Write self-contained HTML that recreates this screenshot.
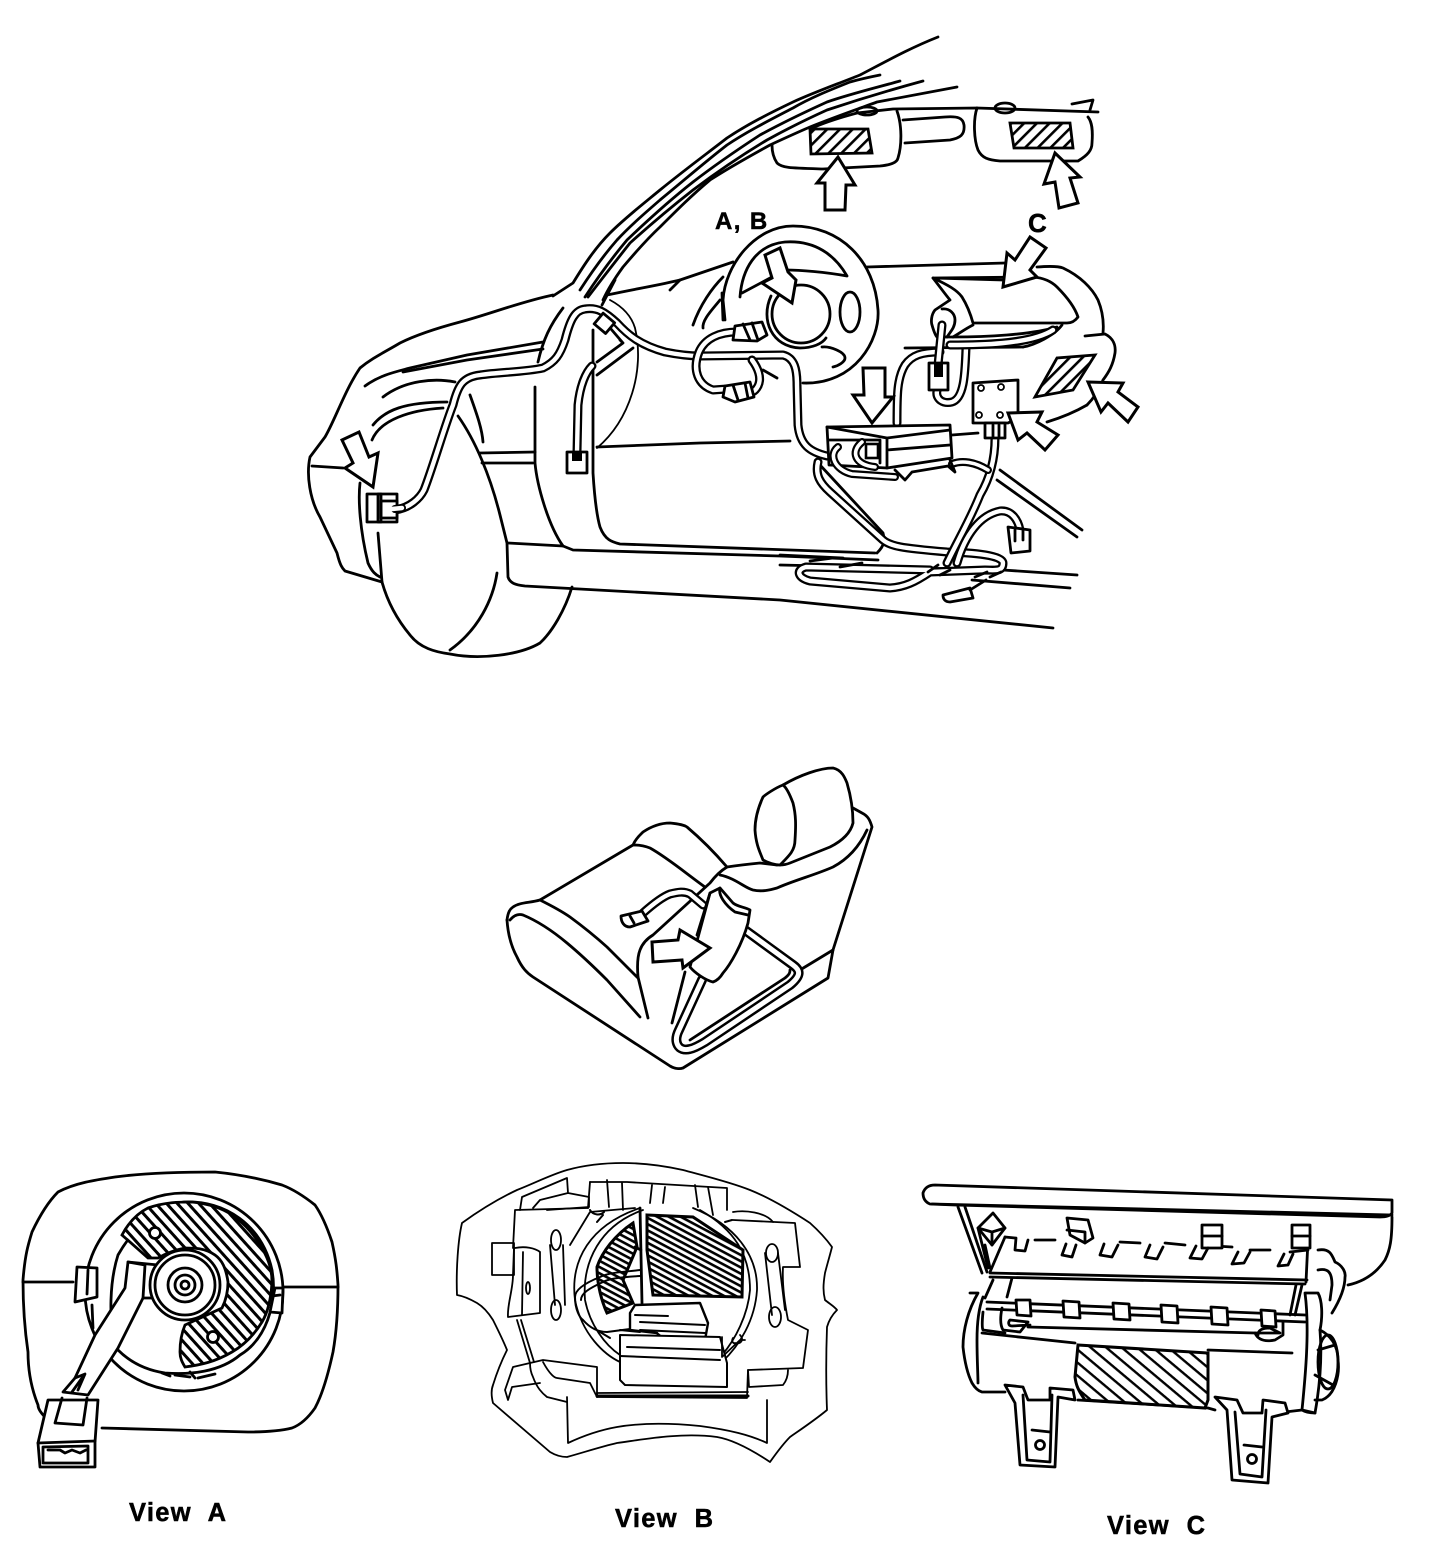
<!DOCTYPE html>
<html lang="en">
<head>
<meta charset="utf-8">
<title>Airbag component locations</title>
<style>
html,body{margin:0;padding:0;background:#fff}
svg{display:block}
text{font-family:"Liberation Sans",sans-serif;font-weight:700;fill:#000;stroke:#000;stroke-width:.5}
.l{fill:none;stroke:#000;stroke-width:2.8;stroke-linecap:round;stroke-linejoin:round}
.t{fill:none;stroke:#000;stroke-width:1.8;stroke-linecap:round;stroke-linejoin:round}
.f{fill:#fff;stroke:#000;stroke-width:2.8;stroke-linejoin:round}
.w{fill:none;stroke:#000;stroke-width:9;stroke-linecap:round;stroke-linejoin:round}
.wi{fill:none;stroke:#fff;stroke-width:4.4;stroke-linecap:round;stroke-linejoin:round}
.a{fill:#fff;stroke:#000;stroke-width:3;stroke-linejoin:miter}
</style>
</head>
<body>
<svg width="1456" height="1552" viewBox="0 0 1456 1552" xmlns="http://www.w3.org/2000/svg">
<defs>
<pattern id="hv" width="9" height="9" patternUnits="userSpaceOnUse" patternTransform="rotate(-45)"><rect width="9" height="9" fill="#fff"/><rect width="9" height="2.6" fill="#000"/></pattern>
<pattern id="ha" width="8" height="8" patternUnits="userSpaceOnUse" patternTransform="rotate(48)"><rect width="8" height="8" fill="#fff"/><rect width="8" height="3" fill="#000"/></pattern>
<pattern id="hb" width="5.5" height="5.5" patternUnits="userSpaceOnUse" patternTransform="rotate(28)"><rect width="5.5" height="5.5" fill="#fff"/><rect width="5.5" height="2.6" fill="#000"/></pattern>
<pattern id="hc" width="10" height="10" patternUnits="userSpaceOnUse" patternTransform="rotate(40)"><rect width="10" height="10" fill="#fff"/><rect width="10" height="2.4" fill="#000"/></pattern>
</defs>

<!-- Windshield / A-pillar -->
<g class="l">
<path d="M938,37 C910,48 885,62 860,75 C835,85 815,92 793,102 C770,113 748,124 727,138 C705,155 682,172 660,190 C643,204 625,218 610,233 C595,248 584,265 573,283 L553,296"/>
<path d="M880,75 C865,78 857,80 850,82 C830,90 810,98 793,108 C770,120 748,131 727,145 C705,162 682,182 660,200 C645,213 630,226 617,240 C603,256 591,273 580,290"/>
<path d="M900,81 C875,88 850,94 827,102 C805,112 782,123 760,135 C737,150 715,165 693,182 C670,200 648,220 627,240 C612,258 598,277 585,297"/>
<path d="M923,81 C890,90 857,100 827,110 C805,120 785,130 767,140 C742,155 717,172 693,190 C670,208 650,225 630,243 C615,262 601,280 588,297"/>
<path d="M957,87 C930,92 903,97 877,102 C855,110 832,118 810,127 C796,133 783,139 770,145 C750,156 730,167 710,180 C692,195 676,211 660,227 C646,240 634,254 623,267 C615,278 608,289 603,300"/>
</g>
<!-- Front body -->
<g class="l">
<path d="M553,295 C520,302 490,314 460,322 C430,330 410,338 400,343 C385,352 372,358 360,368 C345,390 335,420 325,437 L310,457 C306,475 310,500 320,517 L337,553 C340,565 342,568 345,571 L382,582"/>
<path d="M312,466 L343,468"/>
<path d="M365,386 C380,375 395,372 410,368 L467,355 L543,342"/>
<path d="M403,372 L467,360 L543,349"/>
<path d="M538,362 C543,340 550,325 563,308"/>
<path d="M373,425 C385,410 405,402 447,402"/>
<path d="M372,440 C380,420 410,410 443,408"/>
<path d="M383,397 C405,380 435,378 455,382"/>
<path d="M360,483 C358,500 360,530 368,563 C372,572 376,575 380,577"/>
<path d="M378,533 L382,582 C387,600 395,617 410,635 C420,648 435,652 450,654 C480,660 520,655 540,643 C552,632 565,610 572,587"/>
<path d="M497,573 C493,600 478,630 450,650"/>
<path d="M458,416 C475,440 490,475 500,515 L507,543 L508,577 C510,583 515,585 525,586 L780,600 L1053,628"/>
<path d="M470,395 C476,412 482,428 483,442"/>
<path d="M480,453 L535,452 M482,463 L533,463"/>
<path d="M535,387 L535,463 C537,485 548,525 563,546 L573,550 L780,556 L878,560"/>
<path d="M508,543 L563,546"/>
<path d="M593,330 L593,473 C595,505 598,520 600,527 C605,540 612,542 620,544 L875,553"/>
<path d="M597,447 L700,443 L790,441 M1000,470 L1082,530 M997,480 L1077,537"/>
<path class="t" d="M610,300 C625,308 632,318 635,328 C645,370 630,420 597,448"/>
<path d="M607,295 C640,288 660,285 680,280 L733,262 M602,305 L615,280"/>
<path d="M670,290 L680,280"/>
<path d="M693,325 C700,305 712,288 723,277 M722,293 L723,320 M703,328 C702,320 712,310 720,300"/>
<path d="M843,558 L780,555 M780,565 L1003,570 L1077,575 M972,580 L1070,588"/>
<path d="M820,465 L883,533 C885,540 885,545 877,553"/>
<path d="M952,435 L978,433"/>
<path d="M905,348 L1023,347"/>
</g>

<!-- Sun visors and mirror -->
<g class="l">
<path d="M810,129 C825,122 842,117 857,113 L893,109 L977,108 L1098,112"/>
<path d="M772,145 C772,155 775,160 777,163 C782,168 790,168 823,169 L880,166 C890,165 897,163 898,158 C902,145 902,125 897,111"/>
<path d="M977,108 C973,120 974,140 978,150 C982,158 988,160 1000,161 L1043,161 L1078,161 C1088,155 1092,150 1092,143 C1093,130 1092,122 1088,117"/>
<path d="M903,120 L945,117 C958,116 963,118 964,125 C965,135 960,138 950,140 L905,143"/>
<ellipse cx="1005" cy="108" rx="10" ry="5"/>
<ellipse cx="867" cy="111" rx="10" ry="4"/>
<path d="M1072,104 L1093,100 L1090,110"/>
</g>
<path d="M810,129 L868,129 L872,153 L811,154 Z" fill="url(#hv)" stroke="#000" stroke-width="2.8"/>
<path d="M1010,123 L1070,123 L1073,148 L1014,148 Z" fill="url(#hv)" stroke="#000" stroke-width="2.8"/>

<!-- Steering wheel -->
<g class="l">
<path d="M803,383 C855,385 880,340 878,310 C875,260 840,226 793,226 C755,226 725,265 723,300 L725,320"/>
<path d="M740,297 C742,270 755,245 785,242 C815,240 835,255 847,276 C825,272 800,270 786,270"/>
<path d="M742,293 L772,277"/>
<circle cx="801" cy="314" r="29"/>
<path d="M771,296 C760,320 772,347 800,348 C812,348 822,344 826,338"/>
<ellipse cx="850" cy="312" rx="10" ry="20"/>
<path d="M822,347 C830,346 845,352 845,358 C845,362 838,366 833,367"/>
<path d="M763,370 L777,378"/>
</g>

<!-- Dashboard -->
<g class="l">
<path d="M867,267 L1005,263 M1037,267 C1050,266 1058,266 1063,268 C1080,276 1092,288 1098,300 C1103,312 1104,322 1103,333"/>
<path d="M1085,336 L1105,334 C1113,338 1116,345 1115,353 C1113,365 1109,372 1103,380 C1098,393 1092,400 1087,405"/>
<path d="M1047,422 C1060,418 1075,412 1087,405"/>
<path d="M933,278 L1003,280 M1033,277 C1045,278 1052,282 1057,287 C1068,298 1075,308 1078,317 C1075,321 1072,323 1067,323 L973,323 C970,312 967,305 962,297 C957,290 948,285 933,278 Z"/>
<path d="M933,278 C940,287 945,294 950,300 L935,310 C931,315 931,322 932,325 C934,332 936,336 937,337 L953,337 C960,333 965,329 973,325"/>
<path d="M953,337 C985,337 1030,335 1057,327 M1062,325 C1055,335 1035,345 1023,347"/>
<path d="M942,309 C950,308 955,314 955,320 C955,328 950,332 947,337"/>
</g>

<!-- Harness -->
<g>
<path class="w" d="M395,510 C410,508 420,498 424,490 C432,470 445,425 453,405 C458,385 463,377 480,375 C500,372 525,372 543,368 C555,362 560,355 565,340 C570,320 575,310 585,309 C597,307 605,312 617,323 C628,335 640,345 665,352 C680,355 690,356 700,356 L783,355 C795,358 797,370 797,385 L798,425 C800,445 810,452 827,456"/>
<path class="wi" d="M395,510 C410,508 420,498 424,490 C432,470 445,425 453,405 C458,385 463,377 480,375 C500,372 525,372 543,368 C555,362 560,355 565,340 C570,320 575,310 585,309 C597,307 605,312 617,323 C628,335 640,345 665,352 C680,355 690,356 700,356 L783,355 C795,358 797,370 797,385 L798,425 C800,445 810,452 827,456"/>
<path class="w" d="M737,332 C720,332 705,338 699,352 C692,370 698,385 713,390 L727,389"/>
<path class="wi" d="M737,332 C720,332 705,338 699,352 C692,370 698,385 713,390 L727,389"/>
<path class="w" d="M752,360 C758,368 762,378 758,386 C755,392 750,394 745,393"/>
<path class="wi" d="M752,360 C758,368 762,378 758,386 C755,392 750,394 745,393"/>
<path class="w" d="M577,452 L578,405 C580,385 586,372 592,366"/>
<path class="wi" d="M577,452 L578,405 C580,385 586,372 592,366"/>
<path class="l" d="M623,343 L597,362 M633,348 L597,375 M620,340 L623,343 L605,322"/>
<path class="w" d="M897,423 C897,395 897,378 905,365 C912,355 922,352 940,352"/>
<path class="wi" d="M897,423 C897,395 897,378 905,365 C912,355 922,352 940,352"/>
<path class="w" d="M940,385 C932,395 940,405 952,402 C965,398 965,370 966,348"/>
<path class="wi" d="M940,385 C932,395 940,405 952,402 C965,398 965,370 966,348"/>
<path class="w" d="M950,345 C975,345 1030,345 1053,330"/>
<path class="wi" d="M950,345 C975,345 1030,345 1053,330"/>
<path class="w" d="M942,325 L938,365"/>
<path class="wi" d="M942,325 L938,365"/>

<path class="w" d="M818,462 C815,475 820,483 830,492 L883,540 C890,546 900,548 947,552 C985,553 1003,557 1003,563 C1003,572 995,570 985,570 L930,572 C915,582 905,587 890,588 L810,581 C798,578 795,570 806,567 L930,570"/>
<path class="wi" d="M818,462 C815,475 820,483 830,492 L883,540 C890,546 900,548 947,552 C985,553 1003,557 1003,563 C1003,572 995,570 985,570 L930,572 C915,582 905,587 890,588 L810,581 C798,578 795,570 806,567 L930,570"/>
<path class="w" d="M995,438 C995,460 990,478 980,495 C970,520 958,540 947,563"/>
<path class="wi" d="M995,438 C995,460 990,478 980,495 C970,520 958,540 947,563"/>
<path class="w" d="M957,563 C965,535 980,515 1000,511 C1012,510 1018,520 1020,530"/>
<path class="wi" d="M957,563 C965,535 980,515 1000,511 C1012,510 1018,520 1020,530"/>
<path class="w" d="M952,464 C962,460 975,462 988,470" style="stroke-width:8"/>
<path class="wi" d="M952,464 C962,460 975,462 988,470" style="stroke-width:3.6"/>
<path class="l" d="M928,572 L938,565 M940,575 L950,570 M975,577 L987,572 M990,577 L1001,572 M810,561 L833,558 M840,567 L862,563"/>
</g>

<!-- Connectors, car -->
<g>
<rect class="f" x="367" y="494" width="30" height="28"/>
<rect class="f" x="381" y="501" width="16" height="17"/>
<path class="w" d="M395,509 L402,508" style="stroke-width:8"/>
<path class="wi" d="M392,509 L402,508"/>
<rect class="l" x="378" y="494" width="3" height="28"/>
<rect class="f" x="567" y="452" width="20" height="21"/>
<rect x="572" y="452" width="10" height="9" fill="#000"/>
<rect class="f" x="597" y="316" width="15" height="14" transform="rotate(40 604 323)"/>
<path class="f" d="M735,326 L762,322 L767,335 L757,341 L733,340 Z"/>
<path class="l" d="M743,324 L750,340 M752,323 L758,340"/>
<path class="f" d="M725,386 L750,382 L754,397 L735,402 L723,397 Z"/>
<path class="l" d="M733,385 L738,400 M745,383 L748,398"/>
<rect class="f" x="929" y="363" width="19" height="27"/>
<rect x="934" y="363" width="9" height="14" fill="#000"/>
<path class="f" d="M1008,527 L1030,530 L1030,551 L1011,553 Z"/>
<path class="l" d="M1015,530 L1015,541 M1023,530 L1023,540"/>
<path class="f" d="M943,595 L970,588 L973,598 L950,602 C945,602 943,599 943,595 Z"/>
<path class="l" d="M970,590 L986,580"/>
</g>

<!-- Control unit -->
<path class="f" d="M827,427 L950,425 L952,458 L887,468 L829,465 Z"/>
<path class="l" d="M827,427 L887,438 L950,430 M887,438 L887,468 M887,450 L950,445 M829,440 L880,440 L880,463"/>
<path class="w" d="M838,447 C828,455 835,470 852,474 L895,477" style="stroke-width:8"/>
<path class="wi" d="M838,447 C828,455 835,470 852,474 L895,477" style="stroke-width:3.6"/>
<path class="w" d="M862,442 C850,452 855,465 875,467" style="stroke-width:8"/>
<path class="wi" d="M862,442 C850,452 855,465 875,467" style="stroke-width:3.6"/>
<path class="l" d="M895,470 L905,480 L912,472 L948,466 L955,472 L950,460"/>
<rect x="866" y="444" width="12" height="14" fill="none" stroke="#000" stroke-width="2.6"/>

<!-- Sensor -->
<path class="f" d="M973,383 L1018,380 L1018,418 L1008,423 L973,423 Z"/>
<circle cx="981" cy="388" r="3" class="t"/><circle cx="1001" cy="387" r="3" class="t"/><circle cx="979" cy="415" r="3" class="t"/><circle cx="1000" cy="415" r="3" class="t"/>
<rect class="f" x="985" y="423" width="20" height="15"/>
<path class="l" d="M993,425 L993,437 M999,425 L999,437"/>

<!-- Glove hatch -->
<path d="M1035,397 L1057,358 L1095,355 L1073,390 Z" fill="url(#hv)" stroke="#000" stroke-width="2.8"/>

<!-- Arrows, car -->
<g class="a">
<path d="M342,440 L359,432 L369,457 L378,453 L373,487 L345,468 L353,463 Z"/>
<path d="M838,157 L855,185 L846,185 L845,210 L825,210 L825,183 L817,183 Z"/>
<path d="M1055,153 L1080,177 L1070,178 L1078,203 L1059,208 L1055,182 L1044,184 Z"/>
<path d="M1003,287 L1007,253 L1015,260 L1030,237 L1046,248 L1030,270 L1037,277 Z"/>
<path d="M792,303 L762,283 L772,278 L765,255 L780,248 L788,272 L796,280 Z"/>
<path d="M863,368 L885,368 L885,397 L893,397 L872,423 L853,395 L864,395 Z"/>
<path d="M1088,382 L1123,383 L1118,392 L1138,407 L1128,422 L1108,403 L1101,412 Z"/>
<path d="M1008,413 L1042,412 L1037,422 L1058,435 L1045,450 L1027,433 L1018,440 Z"/>
</g>

<text x="715" y="229" font-size="24" letter-spacing="1.4">A, B</text>
<text x="1028" y="232" font-size="26">C</text>

<!-- Seat -->
<g class="l">
<path d="M507,920 C508,912 510,909 513,907 C520,902 530,903 540,900 L633,845 C636,838 640,835 643,832 C652,826 660,823 670,823 C680,824 684,825 687,827 C700,838 715,853 727,867"/>
<path d="M540,900 C550,905 560,910 570,917 C585,928 597,938 607,947 C620,960 630,970 638,978"/>
<path d="M633,845 C640,845 645,846 650,848 C668,858 688,875 705,887"/>
<path d="M507,920 C508,935 512,948 517,957 C522,968 527,973 533,977 L670,1066 C675,1069 680,1069 683,1068 L828,978 L833,950 L872,827 C870,820 868,816 862,813 L853,808"/>
<path d="M510,920 C515,914 520,914 523,915 C540,922 555,933 567,943 C585,958 597,970 607,980 L640,1017"/>
<path d="M638,977 C637,965 638,955 640,950 C643,942 648,938 653,935 L710,883 C716,875 722,870 727,867 C740,865 750,864 760,863 L777,865"/>
<path d="M638,977 L648,1018"/>
<path d="M783,785 C800,775 820,768 833,768 C842,770 845,778 847,783 C852,800 853,812 853,823 C850,835 840,842 830,847 L790,863 C785,865 782,865 780,865"/>
<path d="M783,785 C775,788 765,795 763,797 C757,810 755,820 755,830 C756,845 760,852 763,860 C768,863 775,865 780,865 C790,855 795,850 795,840 C796,825 796,815 793,803 C790,795 787,788 783,785 Z"/>
<path d="M720,875 C735,878 745,888 753,890 C762,892 770,890 777,888 C795,880 815,875 833,867 C850,858 860,845 867,830"/>
<path d="M833,950 L800,970"/>
<path d="M685,972 L672,1023"/>
<path class="t" d="M700,977 L690,1010"/>
</g>
<path class="w" d="M643,913 C652,905 662,897 670,894 C678,892 684,891 690,894 L703,905"/>
<path class="wi" d="M643,913 C652,905 662,897 670,894 C678,892 684,891 690,894 L703,905"/>
<path class="w" d="M702,980 L679,1030 C673,1042 678,1052 690,1049 C695,1048 700,1045 705,1042 L790,985 C802,975 800,970 793,965 L745,930" style="stroke-width:10"/>
<path class="wi" d="M702,980 L679,1030 C673,1042 678,1052 690,1049 C695,1048 700,1045 705,1042 L790,985 C802,975 800,970 793,965 L745,930" style="stroke-width:5"/>
<path class="l" d="M690,1040 L785,978 C790,974 790,972 790,970"/>
<path class="f" d="M621,916 L642,911 L648,921 L630,927 C624,927 621,922 621,916 Z"/>
<path class="l" d="M630,916 L634,923"/>
<path class="f" d="M710,893 L720,888 L733,903 C738,907 745,907 750,910 L748,923 C742,945 730,965 723,973 C720,978 716,981 713,982 C705,980 695,973 690,967 L700,930 Z"/>
<path class="l" d="M720,888 C718,895 725,905 735,912 L748,915 M710,893 L697,935"/>
<path class="a" d="M652,942 L678,940 L680,930 L710,948 L683,968 L682,960 L653,962 Z"/>

<!-- View A -->
<g class="l">
<path d="M45,1417 C40,1412 38,1408 38,1405 C30,1385 28,1365 28,1352 C24,1325 23,1300 23,1280 C25,1255 28,1245 32,1232 C40,1215 48,1202 58,1192 C75,1183 95,1180 115,1177 C145,1173 180,1172 215,1172 C245,1175 265,1180 282,1185 C295,1190 305,1197 315,1205 C322,1215 328,1230 332,1242 C336,1260 337,1270 338,1285 C338,1310 336,1335 333,1352 C328,1375 322,1395 315,1408 C308,1418 300,1425 292,1428 C280,1431 265,1432 248,1432 L102,1428"/>
<path d="M23,1282 L73,1282 M283,1287 L338,1287"/>
<circle cx="184" cy="1292" r="99"/>
<path d="M116,1344 C108,1320 110,1280 118,1255 C135,1225 160,1205 184,1202 C225,1200 262,1225 272,1270 C278,1305 265,1340 240,1355 C220,1372 190,1375 165,1373 C145,1370 130,1362 118,1350"/>
</g>
<path d="M122,1235 C130,1220 140,1212 148,1208 C165,1202 180,1202 192,1202 C210,1204 222,1208 232,1215 C248,1226 256,1238 262,1248 C270,1262 272,1272 272,1282 C271,1300 268,1312 262,1322 C254,1335 244,1345 232,1352 C215,1362 200,1365 185,1367 C182,1362 180,1358 180,1352 C180,1340 182,1332 185,1325 L222,1308 C226,1300 228,1290 228,1282 C226,1268 222,1260 215,1255 C205,1248 195,1248 185,1248 C175,1250 165,1254 158,1258 L148,1258 Z" fill="url(#ha)" stroke="#000" stroke-width="2.8"/>
<circle cx="155" cy="1233" r="5.5" class="f"/>
<circle cx="213" cy="1337" r="5.5" class="f"/>
<path class="f" d="M128,1262 L158,1265 L158,1298 L143,1298 L118,1348 L88,1395 L63,1392 L75,1378 L95,1335 L125,1288 Z"/>
<path class="l" d="M128,1262 L145,1265 L143,1298"/>
<path class="l" d="M75,1378 L85,1374 L78,1390 M82,1378 L72,1392"/>
<circle cx="185" cy="1285" r="35" class="f"/>
<circle cx="185" cy="1285" r="30" class="l"/>
<circle cx="185" cy="1285" r="17" class="l"/>
<circle cx="185" cy="1285" r="10" class="l"/>
<circle cx="185" cy="1285" r="4" class="l"/>
<path class="f" d="M77,1267 L97,1268 L97,1297 L75,1302 Z"/>
<path class="l" d="M88,1270 L87,1294 M92,1305 L93,1328"/>
<path class="f" d="M275,1288 L283,1288 L282,1313 L270,1312 Z"/>
<path class="l" d="M280,1295 L272,1296"/>
<path class="f" d="M48,1400 L98,1400 L95,1442 L95,1467 L40,1467 L38,1443 Z"/>
<path class="l" d="M38,1443 L95,1441 M62,1398 L55,1423 L83,1425 L87,1398"/>
<path class="l" d="M43,1447 L88,1446 L88,1463 L43,1463 Z M48,1450 L60,1450 L65,1453 L72,1450 L80,1453 L86,1450"/>
<path class="l" d="M162,1373 L170,1376 M175,1375 L190,1377 M198,1378 L215,1374 M190,1372 L195,1378"/>

<!-- View B -->
<g class="t">
<path d="M457,1295 C456,1270 458,1240 462,1223 C480,1210 500,1198 517,1190 C535,1183 550,1175 567,1170 C585,1165 605,1163 623,1163 C645,1163 665,1166 683,1170 C705,1176 730,1182 750,1190 C770,1198 790,1210 810,1223 C820,1232 827,1240 832,1247 C830,1255 827,1265 825,1273 C823,1285 823,1292 825,1300 C830,1304 835,1307 837,1310 C832,1315 829,1320 827,1327 C826,1355 826,1385 827,1410 C815,1420 800,1430 790,1437 C782,1445 775,1455 770,1462 C755,1452 735,1440 717,1437 C680,1432 640,1440 617,1443 C600,1447 585,1452 567,1457 C560,1457 555,1455 550,1452 L493,1403 C491,1395 491,1390 493,1385 C497,1372 502,1360 507,1350 C503,1340 498,1330 493,1320 C488,1312 482,1306 477,1303 C470,1299 463,1296 457,1295 Z"/>
<path d="M567,1397 L568,1443 C585,1435 600,1430 617,1427 C640,1423 670,1423 700,1426 C730,1430 750,1435 767,1443 L767,1400"/>
<path d="M590,1182 L627,1182 L727,1188 L727,1210"/>
<path d="M590,1182 L588,1208 M607,1180 L609,1207 M622,1183 L623,1210 M652,1185 L650,1203 M665,1187 L663,1203 M695,1185 L698,1207 M708,1187 L713,1215"/>
<path d="M515,1210 L588,1208 M515,1210 L513,1248"/>
<rect x="492" y="1243" width="22" height="32"/>
<path d="M515,1248 C525,1246 535,1248 540,1252 L540,1313 L508,1317 C507,1305 513,1290 513,1275 L514,1248"/>
<path d="M523,1252 L522,1315"/>
<ellipse cx="528" cy="1288" rx="2" ry="6"/>
<path d="M520,1210 L522,1197 L567,1178 L568,1193 L540,1200 L533,1208 M568,1193 L589,1197 L589,1207 L547,1210"/>
<path d="M550,1245 L555,1305 M563,1245 L565,1305"/>
<ellipse cx="556" cy="1240" rx="5" ry="10"/>
<ellipse cx="556" cy="1310" rx="5" ry="10"/>
<path d="M765,1253 L772,1315 M778,1253 L785,1310"/>
<ellipse cx="772" cy="1253" rx="6" ry="9"/>
<ellipse cx="775" cy="1317" rx="6" ry="10"/>
<path d="M733,1220 L795,1223 L800,1267 L783,1267 C782,1285 785,1305 788,1320 L808,1330 L803,1368 L748,1370 L747,1398 L597,1397 L597,1367 L543,1360 L530,1363"/>
<path d="M733,1212 C745,1210 765,1212 773,1222"/>
<path d="M517,1320 L530,1363 M521,1320 L534,1362"/>
<path d="M530,1363 L513,1367 L505,1390 L508,1400 L512,1387 L540,1383"/>
<path d="M530,1363 C530,1370 532,1375 533,1377 C537,1388 542,1393 547,1397 L567,1402"/>
<path d="M543,1362 C550,1375 555,1378 557,1378 L590,1383 L597,1397"/>
<path d="M748,1370 L749,1387 L783,1385 C787,1380 788,1375 788,1370"/>
<path d="M597,1397 L597,1393 L748,1392"/>
<path d="M640,1208 C590,1225 570,1260 575,1300 C582,1335 605,1355 620,1362"/>
<path d="M643,1210 C600,1225 582,1262 585,1300 C590,1325 605,1345 620,1355"/>
<path d="M693,1208 C735,1225 758,1255 757,1290 C755,1320 740,1345 722,1362"/>
<path d="M700,1210 C735,1230 750,1255 750,1290 C748,1315 735,1340 722,1355"/>
<path d="M570,1245 L590,1212 L635,1208"/>
</g>
<path d="M647,1215 L693,1217 L743,1250 L742,1297 L653,1295 L647,1250 Z" fill="url(#hb)" stroke="#000" stroke-width="3"/>
<path d="M633,1223 C615,1235 602,1252 597,1267 C597,1285 602,1302 607,1313 L633,1303 L623,1280 L637,1247 Z" fill="url(#hb)" stroke="#000" stroke-width="3"/>
<path class="l" d="M640,1208 L642,1303 M635,1247 L641,1250"/>
<path class="l" d="M640,1270 C625,1272 610,1272 600,1277 C585,1283 575,1290 575,1297 C575,1310 580,1318 583,1320 C590,1328 598,1332 607,1332 L630,1329" style="stroke-width:2"/>
<path class="l" d="M640,1276 C625,1277 610,1278 603,1282 C590,1288 581,1293 581,1300" style="stroke-width:2"/>
<path class="f" d="M635,1305 L700,1303 L708,1323 L705,1340 L663,1342 L657,1333 L630,1330 L630,1313 Z" style="stroke-width:2.4"/>
<path class="l" d="M635,1315 L668,1316 M640,1322 L705,1325 M640,1330 L705,1333 M657,1333 L668,1342" style="stroke-width:2"/>
<path class="f" d="M620,1335 L720,1337 L727,1363 L727,1387 L625,1385 L620,1380 Z" style="stroke-width:2"/>
<path class="l" d="M627,1347 L720,1350 M620,1356 L720,1360" style="stroke-width:2"/>
<path class="l" d="M597,1396 L748,1396" style="stroke-width:3"/>
<path class="t" d="M722,1337 L722,1357 L740,1340 L745,1340 M733,1338 C730,1342 735,1345 738,1343 M740,1335 C745,1340 740,1345 735,1343"/>
<path class="l" d="M590,1210 C593,1215 600,1216 604,1212 M597,1222 L603,1215 M725,1222 L732,1220" style="stroke-width:2"/>
<path class="l" d="M600,1332 L610,1338 M620,1330 L640,1332" style="stroke-width:2"/>

<!-- View C -->
<path class="f" d="M923,1193 C925,1187 930,1185 935,1185 L1392,1200 L1392,1213 C1390,1216 1385,1217 1380,1217 L955,1205 L930,1204 C925,1202 923,1198 923,1193 Z"/>
<g class="l">
<path d="M932,1204 L1392,1215"/>
<path d="M1392,1217 C1392,1240 1390,1250 1385,1260 C1375,1275 1362,1282 1348,1285"/>
<path d="M958,1207 L982,1273 M965,1207 L987,1272"/>
<path d="M1005,1237 L1015,1238 M1035,1240 L1055,1240 M1120,1242 L1140,1243 M1165,1243 L1185,1245 M1215,1246 L1232,1247 M1250,1250 L1270,1250 M1290,1252 L1308,1250"/>
<path d="M1005,1237 L990,1272"/>
<path d="M990,1273 L1307,1280 M990,1277 L1305,1284"/>
<path d="M1308,1240 L1306,1282"/>
<path d="M993,1280 L985,1298 M1012,1278 L1007,1297 M1296,1285 L1290,1315 M1302,1285 L1295,1315"/>
<path d="M987,1302 L1305,1315 M987,1309 L1305,1322"/>
<path d="M983,1312 C982,1322 982,1328 983,1330 L1005,1333 M1028,1327 L1255,1333"/>
<path d="M1002,1308 C1000,1318 1000,1325 1003,1330 L1020,1332 L1028,1322 L1010,1320 C1008,1322 1008,1326 1012,1326 L1030,1325"/>
<path d="M1255,1333 C1258,1340 1265,1342 1275,1340 L1283,1335 L1283,1322 M1255,1333 L1280,1333 L1270,1328 C1262,1328 1258,1330 1258,1335"/>
<path d="M982,1333 L1075,1343 M1208,1350 L1292,1353"/>
<path d="M970,1293 L978,1293 C968,1310 963,1330 963,1347 C965,1365 968,1375 972,1383 C975,1388 978,1391 982,1392 L1005,1392"/>
<path d="M983,1297 C978,1310 977,1325 977,1340 C977,1360 978,1375 978,1383"/>
<path d="M1078,1400 L1208,1408 L1215,1410"/>
<path d="M1285,1412 L1302,1410 L1315,1413"/>
<path d="M1305,1293 L1318,1293 C1322,1300 1323,1315 1320,1330 C1322,1355 1320,1385 1315,1413 C1310,1413 1305,1412 1302,1410 C1305,1380 1310,1330 1305,1293 Z"/>
<path d="M1320,1330 C1330,1335 1338,1345 1338,1360 C1340,1375 1335,1395 1322,1400 L1315,1400"/>
<ellipse cx="1328" cy="1362" rx="10" ry="27"/>
<path d="M1318,1350 L1335,1345 M1315,1375 L1333,1385"/>
<path d="M1318,1250 C1330,1248 1332,1255 1335,1262 C1342,1265 1346,1272 1345,1277 C1345,1288 1340,1300 1332,1313 M1318,1270 C1328,1268 1332,1272 1332,1285 L1330,1300"/>
</g>
<path d="M1078,1345 L1208,1353 L1208,1400 L1205,1408 L1085,1400 C1078,1390 1076,1385 1075,1377 Z" fill="url(#hc)" stroke="#000" stroke-width="3"/>
<g>
<path class="f" d="M1005,1385 L1023,1387 L1028,1400 L1050,1400 L1050,1388 L1073,1390 L1075,1400 L1058,1397 L1055,1467 L1020,1465 L1015,1403 Z"/>
<path class="f" d="M1215,1397 L1237,1400 L1243,1413 L1262,1413 L1263,1400 L1285,1403 L1288,1413 L1272,1417 L1268,1483 L1232,1480 L1227,1410 Z"/>
<path class="l" d="M1023,1395 L1027,1460 L1050,1462 L1052,1395 M1032,1430 L1050,1432"/>
<path class="l" d="M1235,1412 L1240,1474 L1262,1477 L1266,1410 M1244,1445 L1262,1447"/>
<circle cx="1040" cy="1445" r="4.5" class="l"/>
<circle cx="1252" cy="1459" r="4.5" class="l"/>
</g>
<g>
<path class="f" d="M993,1213 L1005,1228 L992,1245 L978,1228 Z"/>
<path class="l" d="M978,1228 L992,1232 L1005,1228 M992,1232 L992,1245 M985,1245 L990,1268 M978,1228 L988,1268"/>
<path class="f" d="M1067,1218 L1088,1220 L1093,1238 L1085,1243 L1070,1235 Z"/>
<path class="l" d="M1067,1230 L1085,1232 L1085,1243"/>
<path class="f" d="M1202,1225 L1222,1225 L1222,1248 L1202,1248 Z"/>
<path class="l" d="M1202,1236 L1222,1236"/>
<path class="f" d="M1292,1225 L1310,1225 L1310,1248 L1292,1248 Z"/>
<path class="l" d="M1292,1236 L1310,1236"/>
<path class="l" d="M1016,1238 L1015,1250 L1025,1251 L1028,1240 M1066,1244 L1062,1255 L1072,1257 L1076,1245 M1104,1244 L1100,1255 L1112,1257 L1118,1245 M1150,1245 L1145,1257 L1157,1259 L1163,1247 M1196,1246 L1190,1258 L1202,1259 L1208,1248 M1238,1252 L1232,1264 L1244,1263 L1250,1252 M1284,1254 L1278,1266 L1288,1265 L1293,1254"/>
<path class="f" d="M1016,1300 L1030,1300 L1031,1316 L1017,1315 Z"/>
<path class="f" d="M1063,1301 L1079,1302 L1080,1318 L1064,1317 Z"/>
<path class="f" d="M1113,1303 L1129,1304 L1130,1320 L1114,1319 Z"/>
<path class="f" d="M1161,1305 L1177,1306 L1178,1323 L1162,1322 Z"/>
<path class="f" d="M1211,1307 L1227,1308 L1228,1325 L1212,1324 Z"/>
<path class="f" d="M1261,1310 L1275,1311 L1276,1327 L1262,1326 Z"/>
</g>

<text x="129" y="1521" font-size="25.5" letter-spacing="1.3" xml:space="preserve">View  A</text>
<text x="615" y="1527" font-size="25.5" letter-spacing="1.3" xml:space="preserve">View  B</text>
<text x="1107" y="1534" font-size="25.5" letter-spacing="1.3" xml:space="preserve">View  C</text>
</svg>
</body>
</html>
